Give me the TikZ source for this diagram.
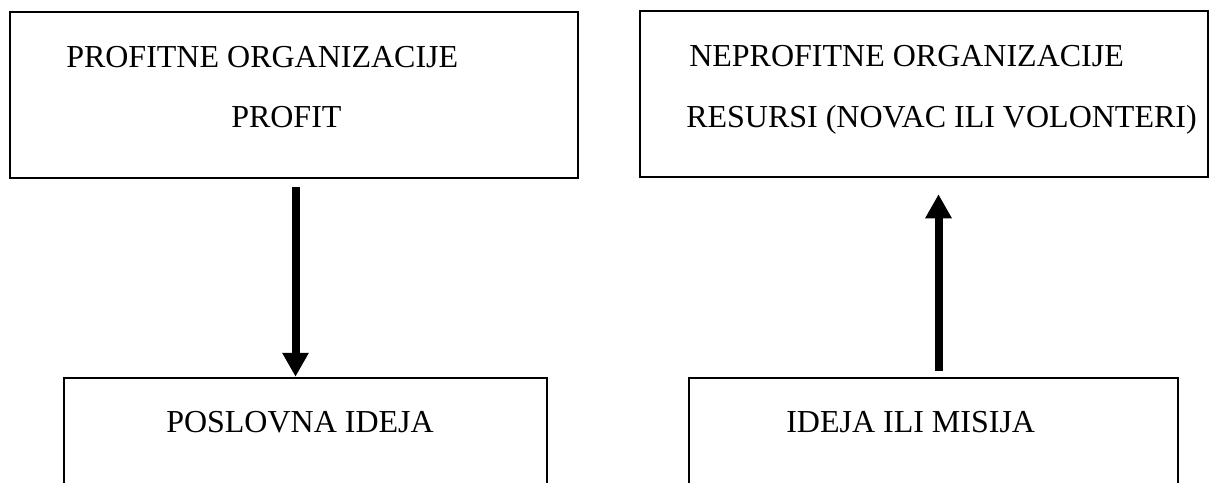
\documentclass[tikz,border=0pt]{standalone}
\usepackage{fontspec}
\setmainfont{Liberation Serif}
\usetikzlibrary{arrows.meta}

\begin{document}
\begin{tikzpicture}[x=1pt,y=-1pt,line width=2.5pt,
    box/.style={draw, inner sep=0pt, minimum height=#1},
    lbl/.style={anchor=base west, inner sep=0pt, font=\fontsize{32}{38}\selectfont},
    arr/.style={line width=8pt, -{Triangle[width=25pt,length=24pt]}}]

                \useasboundingbox (0,0) rectangle (1210,482);
                \clip (0,0) rectangle (1210,482);

                \node [box=166pt, minimum width=568pt] (profitne) at (294,95) {};
                \node [box=166pt, minimum width=568pt] (neprofitne) at (924,94) {};
                \node [box=222pt, minimum width=483pt] (poslovna) at (305.5,489) {};
                \node [box=222pt, minimum width=489pt] (misija) at (933.5,489) {};

                \node [lbl] (profitneA) at (65,67) {PROFITNE ORGANIZACIJE};
                \node [lbl] (profitneB) at (230,127) {PROFIT};
                \node [lbl] (neprofitneA) at (688,66) {NEPROFITNE ORGANIZACIJE};
                \node [lbl] (neprofitneB) at (685,127) {RESURSI (NOVAC ILI VOLONTERI)};
                \node [lbl] (poslovnaA) at (165,432) {POSLOVNA IDEJA};
                \node [lbl] (misijaA) at (785,432) {IDEJA ILI MISIJA};

                \draw [arr] ([xshift=1.5pt,yshift=-8pt]profitne.south) -- ([xshift=-10pt]poslovna.north);
                \draw [arr] ([xshift=5pt,yshift=6pt]misija.north) -- ([xshift=14.5pt,yshift=-16pt]neprofitne.south);

            \end{tikzpicture}
\end{document}
